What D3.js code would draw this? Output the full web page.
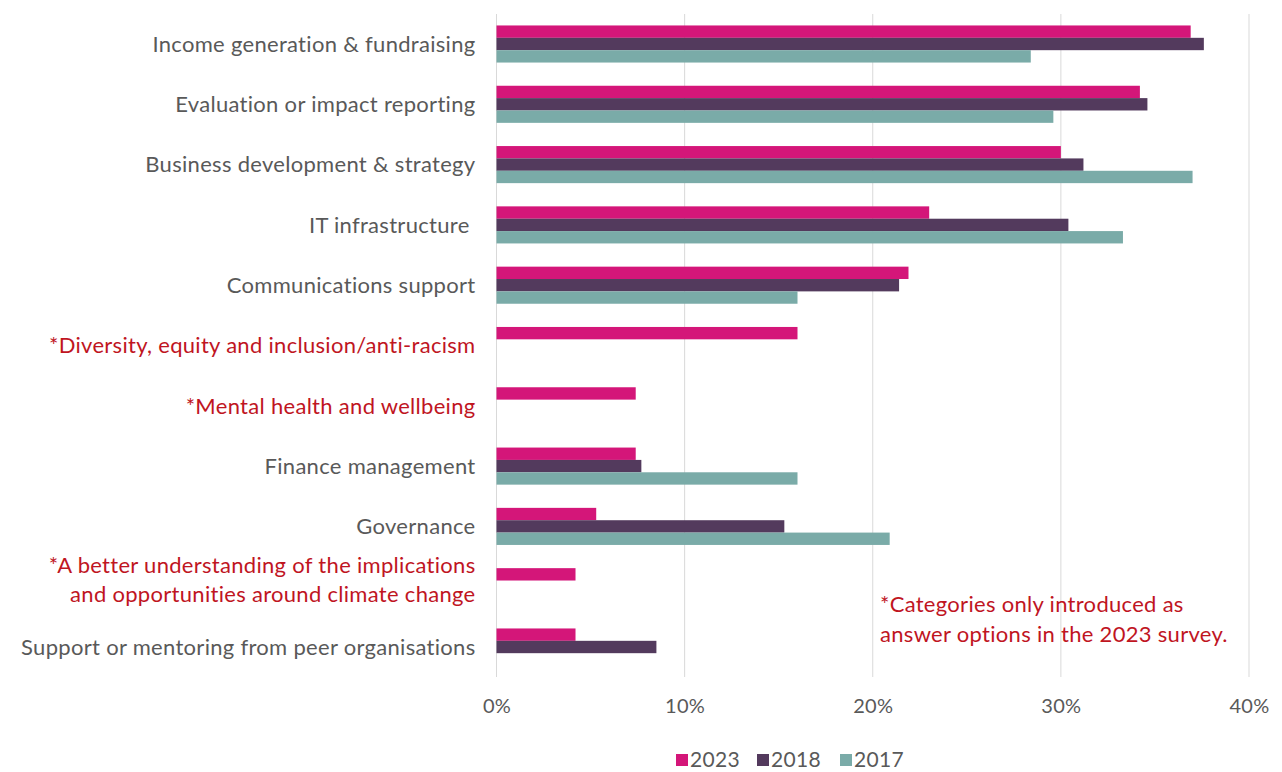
<!DOCTYPE html>
<html>
<head>
<meta charset="utf-8">
<script src="https://cdn.jsdelivr.net/npm/d3@7"></script>
<style>
  html, body { margin: 0; padding: 0; background: #ffffff; }
  svg { display: block; font-family: Lato, "Open Sans", sans-serif; }
</style>
</head>
<body>
<svg id="chart" width="1282" height="772"></svg>
<script>
// Skills / support areas, top to bottom
const categories = [
  "Income generation & fundraising",
  "Evaluation or impact reporting",
  "Business development & strategy",
  "IT infrastructure ",
  "Communications support",
  "*Diversity, equity and inclusion/anti-racism",
  "*Mental health and wellbeing",
  "Finance management",
  "Governance",
  "*A better understanding of the implications\nand opportunities around climate change",
  "Support or mentoring from peer organisations"
];

// Share of respondents per survey year (null = option not offered that year)
const values2023 = [0.369, 0.342, 0.300, 0.230, 0.219, 0.160, 0.074, 0.074, 0.053, 0.042, 0.042];
const values2018 = [0.376, 0.346, 0.312, 0.304, 0.214, null, null, 0.077, 0.153, null, 0.085];
const values2017 = [0.284, 0.296, 0.370, 0.333, 0.160, null, null, 0.160, 0.209, null, null];

const seriesNames = ["2023", "2018", "2017"];
const seriesColors = ["#d41679", "#533a5d", "#7aaba8"];
const xTicks = [0, 0.1, 0.2, 0.3, 0.4];

const footnote = ["*Categories only introduced as", "answer options in the 2023 survey."];

const series = [values2023, values2018, values2017];

const svg = d3.select("#chart");
const plotLeft = 496.5, plotRight = 1249, plotTop = 14, plotBottom = 677;

const x = d3.scaleLinear().domain([0, 0.4]).range([plotLeft, plotRight]);
const y = d3.scaleBand().domain(d3.range(categories.length)).range([plotTop, plotBottom])
  .paddingInner(0.385).paddingOuter(0.19);
const ySub = d3.scaleBand().domain(seriesNames).range([0, y.bandwidth()]);

const grey = "#595959";
const red = "#c0151f";

// vertical gridlines
svg.append("g")
  .selectAll("line")
  .data(xTicks)
  .join("line")
  .attr("x1", d => x(d)).attr("x2", d => x(d))
  .attr("y1", plotTop).attr("y2", plotBottom)
  .attr("stroke", "#d9d9d9").attr("stroke-width", 1);

// bars
const groups = svg.append("g").selectAll("g")
  .data(seriesNames)
  .join("g")
  .attr("fill", (d, i) => seriesColors[i]);

groups.selectAll("rect")
  .data((name, si) => series[si].map((v, ci) => ({ v, ci, name })).filter(d => d.v != null))
  .join("rect")
  .attr("x", x(0))
  .attr("y", d => y(d.ci) + ySub(d.name))
  .attr("width", d => x(d.v) - x(0))
  .attr("height", ySub.bandwidth());

// category labels
const labels = svg.append("g")
  .attr("font-size", 22)
  .attr("letter-spacing", 0.3)
  .attr("text-anchor", "end");
categories.forEach((c, i) => {
  const lines = c.split("\n");
  const cy = y(i) + y.bandwidth() / 2;
  const col = c.startsWith("*") ? red : grey;
  const lineH = 29.5;
  const t = labels.append("text")
    .attr("fill", col)
    .style("white-space", "pre");
  lines.forEach((ln, k) => {
    const offset = lines.length === 1 ? 0 : (k - (lines.length - 1) / 2) * lineH - 7;
    t.append("tspan")
      .attr("x", plotLeft - 21)
      .attr("y", cy + offset)
      .attr("dy", "0.35em")
      .text(ln);
  });
});

// x axis
const xAxis = d3.axisBottom(x).tickValues(xTicks).tickFormat(d3.format(".0%")).tickSize(0).tickPadding(0);
const axisG = svg.append("g").attr("transform", `translate(0, ${plotBottom + 22})`).call(xAxis);
axisG.select(".domain").remove();
axisG.selectAll("text")
  .attr("font-size", 20).attr("letter-spacing", 0.3)
  .attr("fill", grey).attr("font-family", "Lato, sans-serif");

// footnote
const fn = svg.append("text").attr("font-size", 22).attr("letter-spacing", 0.3).attr("fill", red);
footnote.forEach((ln, k) => {
  fn.append("tspan").attr("x", 880).attr("y", 604 + k * 30.5).attr("dy", "0.35em").text(ln);
});

// legend
const legendX = [676, 757, 840];
const legend = svg.append("g").selectAll("g")
  .data(seriesNames)
  .join("g")
  .attr("transform", (d, i) => `translate(${legendX[i]}, 760)`);
legend.append("rect")
  .attr("x", 0).attr("y", -6).attr("width", 12).attr("height", 12)
  .attr("fill", (d, i) => seriesColors[i]);
legend.append("text")
  .attr("x", 14).attr("y", 0).attr("dy", "0.35em")
  .attr("font-size", 21).attr("letter-spacing", 0.3).attr("fill", grey)
  .text(d => d);
</script>
</body>
</html>
